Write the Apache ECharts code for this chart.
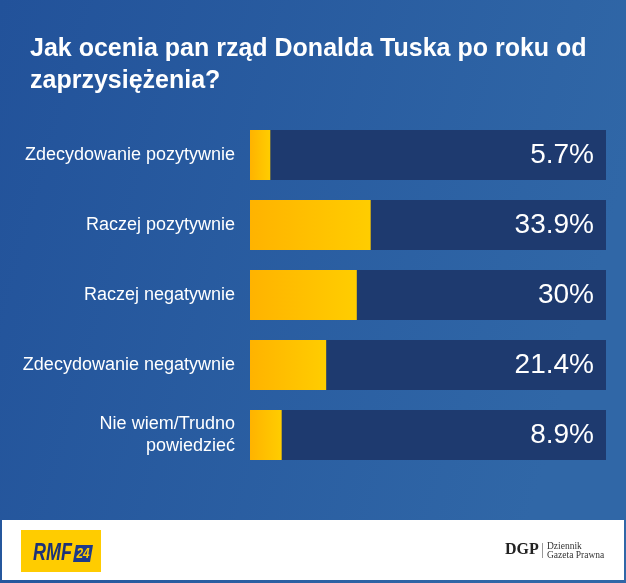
<!DOCTYPE html>
<html>
<head>
<meta charset="utf-8">
<script src="https://cdn.jsdelivr.net/npm/echarts@6/dist/echarts.min.js"></script>
<style>
html,body{margin:0;padding:0;background:#fff;}
#chart{width:626px;height:583px;}
</style>
</head>
<body>
<div id="chart"></div>
<script>
const titleText = 'Jak ocenia pan rząd Donalda Tuska po roku od\nzaprzysiężenia?';
const categories = ['Zdecydowanie pozytywnie', 'Raczej pozytywnie', 'Raczej negatywnie', 'Zdecydowanie negatywnie', 'Nie wiem/Trudno\npowiedzieć'];
const values = [5.7, 33.9, 30, 21.4, 8.9];
const valueLabels = ['5.7%', '33.9%', '30%', '21.4%', '8.9%'];
const trackMax = 100;

const chart = echarts.init(document.getElementById('chart'), null, {renderer: 'canvas'});
const FONT = '"Liberation Sans", Arial, sans-serif';

chart.setOption({
  animation: false,
  title: {
    text: titleText,
    left: 25,
    top: 28,
    textStyle: {color: '#ffffff', fontSize: 25, fontWeight: 'bold', fontFamily: FONT, lineHeight: 32}
  },
  graphic: [
    {type: 'rect', z: -10, silent: true, shape: {x: 0, y: 0, width: 626, height: 583},
     style: {fill: new echarts.graphic.LinearGradient(0, 0, 1, 0.3, [{offset: 0, color: '#22529a'}, {offset: 1, color: '#3067a7'}])}},
    {type: 'rect', z: 10, silent: true, shape: {x: 2, y: 520, width: 622, height: 60}, style: {fill: '#ffffff'}},
    {type: 'rect', z: 11, shape: {x: 21, y: 530, width: 80, height: 42}, style: {fill: '#ffcc00'}},
    {type: 'text', z: 12, x: 33, y: 554, scaleX: 0.78, style: {x: 0, y: 0, text: 'RMF', fill: '#1d3277', font: 'italic 900 23px ' + FONT, verticalAlign: 'middle'}},
    {type: 'polygon', z: 12, shape: {points: [[76, 545], [93, 545], [90, 562], [73, 562]]}, style: {fill: '#1d3a8a'}},
    {type: 'text', z: 13, x: 83, y: 554, scaleX: 0.85, style: {x: 0, y: 0, text: '24', fill: '#ffcc00', font: 'italic bold 14px ' + FONT, align: 'center', verticalAlign: 'middle'}},
    {type: 'text', z: 12, style: {x: 505, y: 550, text: 'DGP', fill: '#222222', font: 'bold 16px "Liberation Serif", serif', verticalAlign: 'middle'}},
    {type: 'line', z: 12, shape: {x1: 542.5, y1: 543, x2: 542.5, y2: 558}, style: {stroke: '#999999', lineWidth: 1}},
    {type: 'text', z: 12, style: {x: 547, y: 546, text: 'Dziennik', fill: '#333333', font: '9.5px "Liberation Serif", serif', verticalAlign: 'middle'}},
    {type: 'text', z: 12, style: {x: 547, y: 555, text: 'Gazeta Prawna', fill: '#333333', font: '9.5px "Liberation Serif", serif', verticalAlign: 'middle'}}
  ],
  grid: {left: 250, right: 20, top: 120, height: 350, containLabel: false},
  xAxis: {type: 'value', min: 0, max: trackMax, show: false},
  yAxis: {
    type: 'category', data: categories, inverse: true,
    axisLine: {show: false}, axisTick: {show: false},
    axisLabel: {color: '#ffffff', fontSize: 18, fontFamily: FONT, margin: 15, align: 'right', lineHeight: 22}
  },
  series: [
    {
      type: 'bar', name: 'track', data: categories.map(() => trackMax), barWidth: 50, z: 1,
      itemStyle: {color: '#1e3a6f'},
      label: {show: true, position: 'insideRight', distance: 12, color: '#ffffff', fontSize: 28, fontFamily: FONT,
        formatter: p => valueLabels[p.dataIndex]},
      silent: true
    },
    {
      type: 'bar', name: 'value', data: values, barWidth: 50, barGap: '-100%', z: 2,
      itemStyle: {color: new echarts.graphic.LinearGradient(0, 0, 1, 0, [{offset: 0, color: '#ffb300'}, {offset: 1, color: '#ffcd00'}])}
    }
  ]
});
</script>
</body>
</html>
